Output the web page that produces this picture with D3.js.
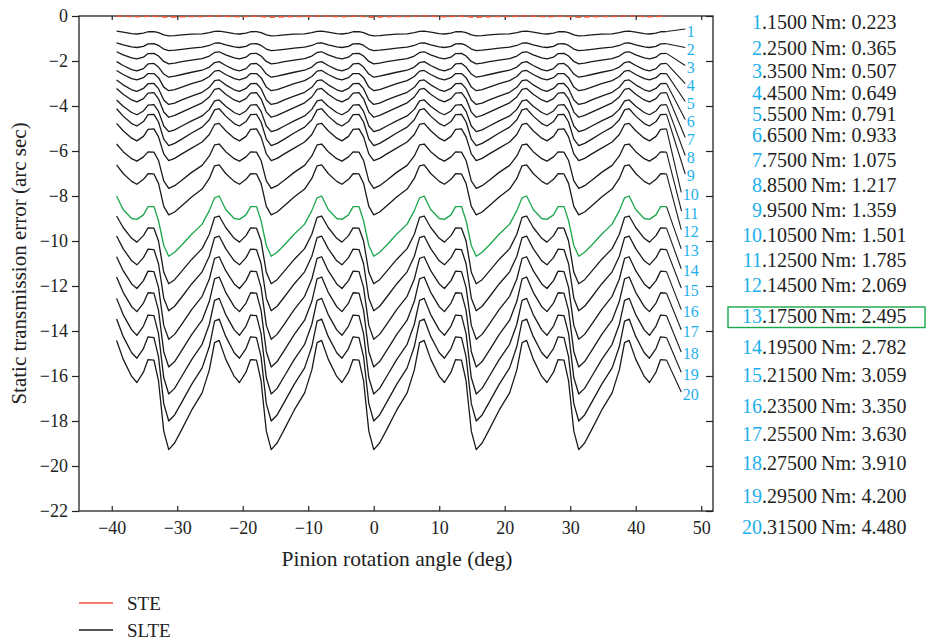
<!DOCTYPE html>
<html>
<head>
<meta charset="utf-8">
<script src="https://cdn.jsdelivr.net/npm/d3@7"></script>
<style>
  body { margin: 0; background: #fff; }
  svg { display: block; }
  text { font-family: "Liberation Serif", "Times New Roman", serif; }
</style>
</head>
<body>
<svg id="chart" width="926" height="644"></svg>
<script>
// Sample angles inside one mesh cycle (deg, measured from the SLTE minimum)
const cyclePhase = [0, 0.9, 2.0, 3.5, 5.1, 6.2, 7.0, 7.7, 8.7, 10.0, 10.8, 11.8, 12.5, 13.4, 14.1, 14.9];
// Start angle of every mesh cycle (23-tooth pinion -> 15.65 deg per cycle)
const cycleStarts = [-46.96, -31.30, -15.65, 0, 15.65, 31.30];
// Angular span covered by the simulation
const angleRange = [-39.5, 44.8];

// SLTE over one mesh cycle for each load case (arc sec)
const slte1  = [-0.88, -0.87, -0.84, -0.81, -0.79, -0.74, -0.68, -0.67, -0.72, -0.78, -0.80, -0.76, -0.70, -0.69, -0.74, -0.84];
const slte2  = [-1.54, -1.52, -1.48, -1.43, -1.38, -1.31, -1.21, -1.19, -1.28, -1.37, -1.40, -1.35, -1.24, -1.23, -1.31, -1.47];
const slte3  = [-2.13, -2.09, -2.03, -1.96, -1.89, -1.78, -1.62, -1.59, -1.73, -1.86, -1.91, -1.83, -1.67, -1.66, -1.78, -2.02];
const slte4  = [-2.72, -2.67, -2.60, -2.50, -2.41, -2.27, -2.07, -2.03, -2.20, -2.38, -2.44, -2.34, -2.13, -2.11, -2.27, -2.58];
const slte5  = [-3.32, -3.27, -3.16, -3.01, -2.87, -2.69, -2.45, -2.42, -2.60, -2.78, -2.84, -2.74, -2.56, -2.56, -2.74, -3.16];
const slte6  = [-3.93, -3.87, -3.73, -3.56, -3.39, -3.17, -2.87, -2.84, -3.06, -3.28, -3.35, -3.22, -3.01, -3.00, -3.23, -3.73];
const slte7  = [-4.50, -4.42, -4.27, -4.07, -3.86, -3.60, -3.26, -3.22, -3.48, -3.73, -3.82, -3.67, -3.43, -3.41, -3.68, -4.27];
const slte8  = [-5.14, -5.06, -4.89, -4.66, -4.44, -4.15, -3.77, -3.73, -4.01, -4.29, -4.39, -4.22, -3.96, -3.94, -4.24, -4.89];
const slte9  = [-5.76, -5.66, -5.47, -5.20, -4.94, -4.61, -4.17, -4.12, -4.45, -4.78, -4.89, -4.69, -4.38, -4.37, -4.71, -5.47];
const slte10 = [-6.43, -6.33, -6.13, -5.87, -5.60, -5.27, -4.82, -4.77, -5.10, -5.43, -5.55, -5.35, -5.04, -5.02, -5.37, -6.13];
const slte11 = [-7.66, -7.54, -7.30, -6.95, -6.64, -6.22, -5.73, -5.69, -6.03, -6.34, -6.45, -6.26, -6.04, -6.05, -6.42, -7.33];
const slte12 = [-8.84, -8.71, -8.43, -8.04, -7.69, -7.22, -6.66, -6.62, -7.00, -7.35, -7.48, -7.26, -7.01, -7.02, -7.44, -8.46];
const slte13 = [-10.68, -10.50, -10.18, -9.70, -9.25, -8.65, -8.08, -8.00, -8.60, -9.00, -9.04, -8.84, -8.47, -8.47, -9.10, -10.20];
const slte14 = [-11.90, -11.72, -11.34, -10.82, -10.34, -9.70, -8.95, -8.89, -9.40, -9.88, -10.05, -9.76, -9.42, -9.43, -10.00, -11.39];
const slte15 = [-13.10, -12.90, -12.49, -11.91, -11.37, -10.68, -9.85, -9.78, -10.34, -10.88, -11.06, -10.74, -10.36, -10.38, -11.01, -12.54];
const slte16 = [-14.37, -14.15, -13.69, -13.05, -12.46, -11.69, -10.77, -10.70, -11.32, -11.91, -12.11, -11.76, -11.34, -11.36, -12.06, -13.75];
const slte17 = [-15.60, -15.36, -14.86, -14.16, -13.52, -12.68, -11.68, -11.60, -12.28, -12.92, -13.14, -12.76, -12.30, -12.32, -13.08, -14.92];
const slte18 = [-16.80, -16.55, -16.01, -15.27, -14.59, -13.70, -12.64, -12.55, -13.27, -13.95, -14.19, -13.78, -13.29, -13.32, -14.12, -16.08];
const slte19 = [-18.00, -17.73, -17.16, -16.37, -15.64, -14.69, -13.56, -13.47, -14.24, -14.97, -15.21, -14.78, -14.26, -14.29, -15.15, -17.23];
const slte20 = [-19.27, -18.98, -18.37, -17.52, -16.75, -15.73, -14.52, -14.42, -15.25, -16.02, -16.29, -15.83, -15.27, -15.29, -16.22, -18.45];
const slteCycles = [slte1, slte2, slte3, slte4, slte5, slte6, slte7, slte8, slte9, slte10,
                    slte11, slte12, slte13, slte14, slte15, slte16, slte17, slte18, slte19, slte20];

// Unloaded STE over one mesh cycle (arc sec)
const steCycle = [-0.05, -0.04, -0.03, -0.02, -0.02, -0.01, 0.00, 0.00, -0.01, -0.02, -0.03, -0.02, -0.01, -0.01, -0.02, -0.04];

// Load cases and their SLTE peak-to-peak values
const caseNumbers = d3.range(1, 21).map(String);
const loads = ["1500", "2500", "3500", "4500", "5500", "6500", "7500", "8500", "9500", "10500",
               "12500", "14500", "17500", "19500", "21500", "23500", "25500", "27500", "29500", "31500"];
const peakToPeak = ["0.223", "0.365", "0.507", "0.649", "0.791", "0.933", "1.075", "1.217", "1.359", "1.501",
                    "1.785", "2.069", "2.495", "2.782", "3.059", "3.350", "3.630", "3.910", "4.200", "4.480"];
const highlightCase = 13;

// Axis ticks
const xTicks = [-40, -30, -20, -10, 0, 10, 20, 30, 40, 50];
const yTicks = [0, -2, -4, -6, -8, -10, -12, -14, -16, -18, -20, -22];

// ---- layout ----
const W = 926, H = 644;
const frame = { left: 79, right: 713, top: 16, bottom: 511 };
const tagAngle = 48.4;           // x position of the case numbers beside the curve ends
const tagLevels = [-0.67, -1.49, -2.29, -3.09, -3.89, -4.69, -5.49, -6.29, -7.11, -7.93,
                   -8.76, -9.58, -10.44, -11.32, -12.18, -13.14, -14.03, -15.02, -15.92, -16.80];
const listRowY = [22.5, 48, 71, 93, 114, 135.5, 160.5, 185, 210.5, 235.5,
                  260.5, 285.5, 316.5, 347, 375, 406, 434.5, 463, 496.5, 527];
const CYAN = "#1cb0ea", GREEN = "#1ba64c", RED = "#f0553a";

const svg = d3.select("#chart");
svg.append("rect").attr("width", W).attr("height", H).attr("fill", "#fff");

const x = d3.scaleLinear().domain([-45, 51.8]).range([frame.left, frame.right]);
const y = d3.scaleLinear().domain([-22, 0]).range([frame.bottom, frame.top]);

// Expand one cycle into the full angular sweep
function sweep(cycle) {
  const pts = [];
  cycleStarts.forEach(c => cyclePhase.forEach((t, i) => {
    const a = c + t;
    if (a >= angleRange[0] && a <= angleRange[1]) pts.push([a, cycle[i]]);
  }));
  return pts;
}

const line = d3.line().x(d => x(d[0])).y(d => y(d[1]));

// Axes
const fmt = d3.format("");
const gLeft = svg.append("g").attr("transform", `translate(${frame.left},0)`)
  .call(d3.axisLeft(y).tickValues(yTicks).tickSizeInner(7).tickSizeOuter(0).tickPadding(4).tickFormat(fmt));
const gBottom = svg.append("g").attr("transform", `translate(0,${frame.bottom})`)
  .call(d3.axisBottom(x).tickValues(xTicks).tickSizeInner(-5).tickSizeOuter(0).tickPadding(10).tickFormat(fmt));
const gTop = svg.append("g").attr("transform", `translate(0,${frame.top})`)
  .call(d3.axisTop(x).tickValues(xTicks).tickSizeInner(-4).tickSizeOuter(0).tickFormat(""));
const gRight = svg.append("g").attr("transform", `translate(${frame.right},0)`)
  .call(d3.axisRight(y).tickValues(yTicks).tickSizeInner(-7).tickSizeOuter(0).tickFormat(""));
[gLeft, gBottom, gTop, gRight].forEach(g => {
  g.select(".domain").remove();
  g.selectAll("line").attr("stroke", "#222").attr("stroke-width", 1.2);
  g.selectAll("text").attr("fill", "#222").attr("font-size", 18)
   .attr("font-family", '"Liberation Serif", serif');
});
svg.append("rect")
  .attr("x", frame.left).attr("y", frame.top)
  .attr("width", frame.right - frame.left).attr("height", frame.bottom - frame.top)
  .attr("fill", "none").attr("stroke", "#222").attr("stroke-width", 1.3);

// Axis titles
svg.append("text")
  .attr("transform", `translate(19,${(frame.top + frame.bottom) / 2}) rotate(-90)`)
  .attr("text-anchor", "middle").attr("dominant-baseline", "central")
  .attr("font-size", 21).attr("fill", "#222")
  .text("Static transmission error (arc sec)");
svg.append("text")
  .attr("x", 397).attr("y", 566)
  .attr("text-anchor", "middle").attr("font-size", 21.5).attr("fill", "#222")
  .text("Pinion rotation angle (deg)");

// SLTE curves
const curves = svg.append("g").attr("fill", "none").attr("stroke-linejoin", "round");
slteCycles.forEach((cyc, i) => {
  const pts = sweep(cyc);
  const isHi = (i + 1) === highlightCase;
  curves.append("path")
    .attr("d", line(pts))
    .attr("stroke", isHi ? GREEN : "#1a1a1a")
    .attr("stroke-width", 1.3);
});

// Case numbers and leader lines at the curve ends
const tags = svg.append("g");
slteCycles.forEach((cyc, i) => {
  const pts = sweep(cyc);
  const end = pts[pts.length - 1];
  const t = tags.append("text")
    .attr("x", x(tagAngle)).attr("y", y(tagLevels[i]))
    .attr("text-anchor", "middle").attr("dominant-baseline", "central")
    .attr("font-size", 16).attr("fill", CYAN)
    .text(caseNumbers[i]);
  const w = t.node().getComputedTextLength();
  tags.append("line")
    .attr("x1", x(end[0])).attr("y1", y(end[1]))
    .attr("x2", x(tagAngle) - w / 2 - 1.5).attr("y2", y(tagLevels[i]) - 2)
    .attr("stroke", "#1a1a1a").attr("stroke-width", 1.1);
});

// STE (drawn over the top frame)
svg.append("path")
  .attr("d", line(sweep(steCycle)))
  .attr("fill", "none").attr("stroke", RED).attr("stroke-width", 1.6)
  .attr("stroke-dasharray", "6 3");

// Load list at the right
const list = svg.append("g").attr("font-size", 20);
const dotX = 762;
caseNumbers.forEach((n, i) => {
  const yy = listRowY[i] + 6.8;
  list.append("text").attr("x", dotX).attr("y", yy).attr("text-anchor", "end")
    .attr("fill", CYAN).text(n);
  list.append("text").attr("x", dotX).attr("y", yy).attr("fill", "#222")
    .text(`.${loads[i]}\u2009Nm: ${peakToPeak[i]}`);
});
list.append("rect")
  .attr("x", 728).attr("y", listRowY[highlightCase - 1] - 9.5)
  .attr("width", 197).attr("height", 20.5)
  .attr("fill", "none").attr("stroke", GREEN).attr("stroke-width", 1.4);

// Legend
const legend = svg.append("g");
[["STE", RED, 603], ["SLTE", "#1a1a1a", 630]].forEach(([label, col, ly]) => {
  legend.append("line").attr("x1", 79).attr("x2", 113).attr("y1", ly).attr("y2", ly)
    .attr("stroke", col).attr("stroke-width", 1.4);
  legend.append("text").attr("x", 127).attr("y", ly + 6.5).attr("font-size", 19)
    .attr("fill", "#222").text(label);
});
</script>
</body>
</html>
